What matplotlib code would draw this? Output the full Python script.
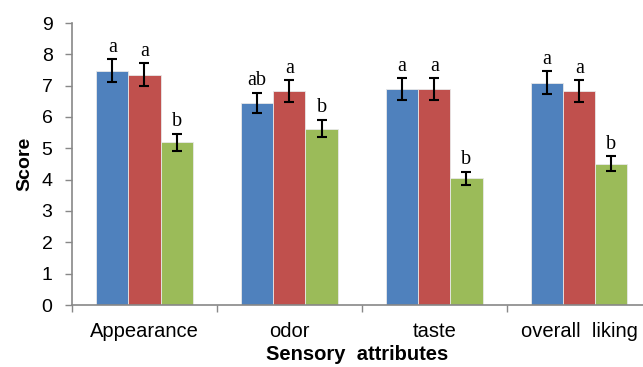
import numpy as np
import matplotlib.pyplot as plt

# data
categories = ["Appearance", "odor", "taste", "overall  liking"]
blue_vals = [7.48, 6.45, 6.88, 7.09]
red_vals = [7.35, 6.83, 6.88, 6.83]
green_vals = [5.19, 5.63, 4.05, 4.51]
blue_err = [0.37, 0.33, 0.35, 0.37]
red_err = [0.37, 0.35, 0.35, 0.35]
green_err = [0.27, 0.28, 0.21, 0.24]
blue_letters = ["a", "ab", "a", "a"]
red_letters = ["a", "a", "a", "a"]
green_letters = ["b", "b", "b", "b"]

fig = plt.figure(figsize=(6.43, 3.67), dpi=100)
ax = fig.add_axes([72 / 643, 1 - 305 / 367, 571 / 643, (305 - 23) / 367])

x = np.arange(len(categories))
w = 0.222
series = [
    (blue_vals, blue_err, blue_letters, "#4F81BD", -w),
    (red_vals, red_err, red_letters, "#C0504D", 0),
    (green_vals, green_err, green_letters, "#9BBB59", w),
]
for vals, errs, letters, col, off in series:
    ax.bar(x + off, vals, width=w, color=col, edgecolor="#e8e8e8", linewidth=0.6, zorder=2)
    ax.errorbar(x + off, vals, yerr=errs, fmt="none", ecolor="black",
                elinewidth=1.5, capsize=3.8, capthick=1.5, zorder=3)
    for xi, v, e, lab in zip(x + off, vals, errs, letters):
        ax.text(xi, v + e + 0.08, lab, ha="center", va="bottom",
                family="Liberation Serif", fontsize=14.5)

ax.set_xlim(-0.5, 3.44)
ax.set_ylim(0, 9)
ax.set_yticks(range(10))
ax.set_xticks(x)
ax.set_xticklabels(categories, family="Liberation Sans", fontsize=14.5)
ax.set_xticks([-0.5, 0.5, 1.5, 2.5], minor=True)
ax.tick_params(axis="x", which="major", length=0, pad=12)
ax.tick_params(axis="x", which="minor", length=5, color="#888888", width=1)
ax.tick_params(axis="y", length=5, color="#888888", width=1, labelsize=14, pad=9)
for t in ax.get_yticklabels():
    t.set_family("Liberation Sans")

for s in ["top", "right"]:
    ax.spines[s].set_visible(False)
for s in ["left", "bottom"]:
    ax.spines[s].set_color("#888888")
    ax.spines[s].set_linewidth(1.2)

ax.set_ylabel("Score", family="Liberation Sans", fontweight="bold", fontsize=14, labelpad=6)
ax.set_xlabel("Sensory  attributes", family="Liberation Sans", fontweight="bold",
              fontsize=14.5, labelpad=3)

plt.savefig("out.png", dpi=100)
